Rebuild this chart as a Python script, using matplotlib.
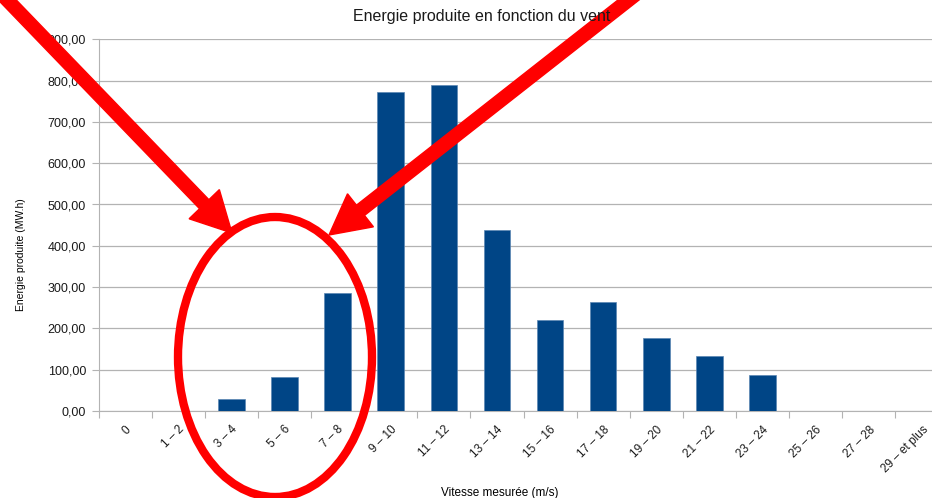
import numpy as np
import matplotlib.pyplot as plt
from matplotlib.patches import Ellipse, FancyArrow

plt.rcParams['font.family'] = ['Liberation Sans', 'DejaVu Sans']

# classes de vitesse et energie produite par classe
vitesses = ["0", "1 – 2", "3 – 4", "5 – 6", "7 – 8", "9 – 10", "11 – 12", "13 – 14",
            "15 – 16", "17 – 18", "19 – 20", "21 – 22", "23 – 24", "25 – 26",
            "27 – 28", "29 – et plus"]
energie = [0, 0, 28, 83, 285, 772, 789, 438, 220, 264, 177, 133, 88, 0, 0, 0]
graduations = [0, 100, 200, 300, 400, 500, 600, 700, 800, 900]

fig = plt.figure(figsize=(9.32, 4.98), dpi=100)
ax = fig.add_axes([98.5 / 932, 1 - 411 / 498, 850 / 932, (411 - 39.3) / 498])

x = np.arange(len(vitesses))
ax.bar(x, energie, width=0.5, color='#004586', edgecolor='#5b86b3', linewidth=0.5, zorder=3)

ax.set_xlim(-0.5, len(vitesses) - 0.5)
ax.set_ylim(0, 900)
ax.set_yticks(graduations)
ax.set_yticklabels([f"{v:.2f}".replace('.', ',') for v in graduations], fontsize=9, color='#1a1a1a')
ax.yaxis.grid(True, color='#b3b3b3', linewidth=0.9, zorder=0)

# graduations x entre les barres, etiquettes au centre
ax.set_xticks(np.arange(len(vitesses) + 1) - 0.5)
ax.set_xticklabels([])
ax.set_xticks(x, minor=True)
ax.set_xticklabels(vitesses, minor=True, rotation=45, ha='right', va='top',
                   rotation_mode='anchor', fontsize=8.5, color='#1a1a1a')
ax.tick_params(axis='x', which='minor', length=0, pad=9)
ax.tick_params(axis='x', which='major', length=5, color='#b3b3b3')
ax.tick_params(axis='y', length=5, color='#b3b3b3', pad=4)

for s in ['top', 'right']:
    ax.spines[s].set_visible(False)
for s in ['left', 'bottom']:
    ax.spines[s].set_color('#b3b3b3')

ax.set_ylabel("Energie produite (MW.h)", fontsize=7.5)
ax.yaxis.set_label_coords(-72 / 850, 0.42)
fig.text(500 / 932, 1 - 493 / 498, "Vitesse mesurée (m/s)", fontsize=8.5, ha='center', va='center')
fig.text(482 / 932, 1 - 16 / 498, "Energie produite en fonction du vent", fontsize=11.5,
         ha='center', va='center', color='#1a1a1a')

# surcharge: fleches et ellipse rouges
ov = fig.add_axes([0, 0, 1, 1])
ov.set_xlim(0, 932)
ov.set_ylim(498, 0)
ov.set_axis_off()
ov.add_patch(Ellipse((275, 357), 194, 280, fill=False, edgecolor='#ff0000', linewidth=6))
ov.add_patch(FancyArrow(-12, -20, 244, 253, width=13, head_width=42, head_length=40,
                        length_includes_head=True, color='#ff0000'))
ov.add_patch(FancyArrow(654, -20, -325, 255, width=13, head_width=42, head_length=40,
                        length_includes_head=True, color='#ff0000'))

plt.savefig('out.png', dpi=100)
